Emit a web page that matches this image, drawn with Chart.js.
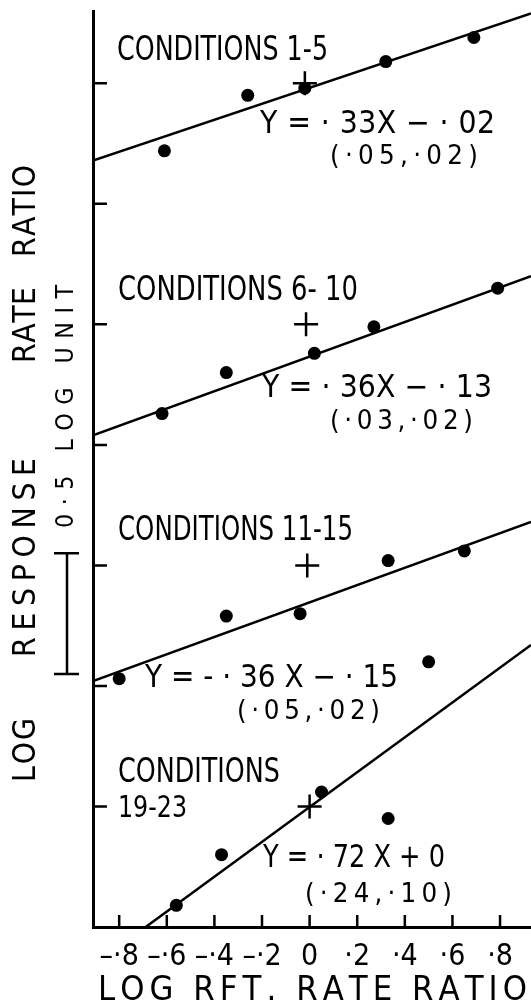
<!DOCTYPE html>
<html>
<head>
<meta charset="utf-8">
<script src="https://cdn.jsdelivr.net/npm/chart.js@4.4.1/dist/chart.umd.min.js"></script>
<style>
html, body { margin: 0; padding: 0; background: #fff; }
#wrap { width: 531px; height: 1005px; }
</style>
</head>
<body>
<div id="wrap"><canvas id="myChart" width="531" height="1005"></canvas></div>
<script>
// x axis: log reinforcement rate ratio
var xTicks = [-0.8, -0.6, -0.4, -0.2, 0, 0.2, 0.4, 0.6, 0.8];
var xTickLabels = ['–·8', '–·6', '–·4', '–·2', '0', '·2', '·4', '·6', '·8'];
// y ticks, every 0.5 log unit
var yTicks = [0, 0.5, 1, 1.5, 2, 2.5, 3];

// each panel is shifted up one log unit from the one below
var panelOffsets = [3, 2, 1, 0];

// data points per panel (x, y relative to the panel's zero)
var pointsX = [
    [-0.61, -0.26, -0.02, 0.32, 0.69],
    [-0.62, -0.35, 0.02, 0.27, 0.79],
    [-0.80, -0.35, -0.04, 0.33, 0.65],
    [-0.56, -0.37, 0.05, 0.33, 0.50]
];
var pointsY = [
    [-0.28, -0.05, -0.02, 0.09, 0.19],
    [-0.37, -0.20, -0.12, -0.01, 0.15],
    [-0.47, -0.21, -0.20, 0.02, 0.06],
    [-0.41, -0.20, 0.06, -0.05, 0.60]
];

// fitted lines, value at left and right edge
var lineX = [-0.91, 0.93];
var lineY = [
    [-0.32, 0.29],
    [-0.46, 0.20],
    [-0.48, 0.18],
    [-0.66, 0.67]
];

// the "+" marks
var crossX = [-0.02, -0.015, -0.01, 0];
var crossY = [0, 0, 0, 0];

// texts
var conditionLabels = [['CONDITIONS 1-5'], ['CONDITIONS 6- 10'], ['CONDITIONS 11-15'], ['CONDITIONS', '19-23']];
var equationLabels = ['Y = · 33X − · 02', 'Y = · 36X − · 13', 'Y = - · 36 X − · 15', 'Y = · 72 X + 0'];
var errorLabels = ['(·05,·02)', '(·03,·02)', '(·05,·02)', '(·24,·10)'];
var xTitleText = 'LOG RFT. RATE RATIO';
var yTitleWords = ['LOG', 'RESPONSE', 'RATE', 'RATIO'];
var scaleText = '0·5 LOG UNIT';
var scaleBarSize = 0.5;

// where the texts go (pixels): x0, x1, baseline, cap height
var conditionBoxes = [
    [[117, 328, 60, 25]],
    [[118, 358, 300, 25]],
    [[118, 353, 540, 24]],
    [[118, 280, 782, 24], [118, 187, 817, 22]]
];
var equationBoxes = [[260, 495, 133, 23], [262, 492, 397, 23], [145, 398, 687, 23], [263, 445, 867, 23]];
var errorBoxes = [[330, 478, 164, 20], [330, 473, 429, 20], [237, 380, 719, 20], [305, 452, 902, 20]];
var xTitleBox = [98, 527, 1000, 25];
// rotated: bottom, top, baseline x, cap height
var yTitleBoxes = [[782, 718, 35, 23], [657, 458, 35, 23], [363, 287, 35, 23], [257, 165, 35, 23]];
var scaleTextBox = [528, 285, 73, 18];

var FONT = '"DejaVu Sans Condensed", "Liberation Sans Narrow", "DejaVu Sans", sans-serif';

// draw text so it fills x0..x1 on the current baseline
function drawFitText(ctx, text, x0, x1, base, cap) {
    var size = cap / 0.729;
    ctx.font = size + 'px ' + FONT;
    ctx.textBaseline = 'alphabetic';
    ctx.textAlign = 'left';
    var widths = [];
    var total = 0;
    for (var i = 0; i < text.length; i++) {
        var w = ctx.measureText(text[i]).width;
        widths.push(w);
        total += w;
    }
    var target = x1 - x0;
    var extra = text.length > 1 ? (target - total) / (text.length - 1) : 0;
    ctx.save();
    ctx.translate(x0, base);
    if (extra < 0) {
        ctx.scale(target / total, 1);
        extra = 0;
    }
    var x = 0;
    for (var j = 0; j < text.length; j++) {
        ctx.fillText(text[j], x, 0);
        x += widths[j] + extra;
    }
    ctx.restore();
}

function drawRotText(ctx, text, bottom, top, baseX, cap) {
    ctx.save();
    ctx.translate(baseX, bottom);
    ctx.rotate(-Math.PI / 2);
    drawFitText(ctx, text, 0, bottom - top, 0, cap);
    ctx.restore();
}

var paperPlugin = {
    id: 'paper',
    afterDraw: function (chart) {
        var ctx = chart.ctx;
        var xs = chart.scales.x;
        var ys = chart.scales.y;
        var area = chart.chartArea;
        ctx.save();
        ctx.strokeStyle = '#000';
        ctx.fillStyle = '#000';
        ctx.lineWidth = 2.5;

        // inward tick marks
        ctx.beginPath();
        yTicks.forEach(function (v) {
            var py = ys.getPixelForValue(v);
            ctx.moveTo(area.left, py);
            ctx.lineTo(area.left + 14, py);
        });
        xTicks.forEach(function (v) {
            var px = xs.getPixelForValue(v);
            ctx.moveTo(px, area.bottom);
            ctx.lineTo(px, area.bottom - 12);
        });
        ctx.stroke();

        // 0.5 log unit bar
        var barTop = ys.getPixelForValue(1.05);
        var barBot = ys.getPixelForValue(1.05 - scaleBarSize);
        ctx.beginPath();
        ctx.moveTo(67, barTop);
        ctx.lineTo(67, barBot);
        ctx.moveTo(54, barTop);
        ctx.lineTo(79, barTop);
        ctx.moveTo(54, barBot);
        ctx.lineTo(79, barBot);
        ctx.stroke();

        // texts
        for (var p = 0; p < 4; p++) {
            conditionLabels[p].forEach(function (t, k) {
                var b = conditionBoxes[p][k];
                drawFitText(ctx, t, b[0], b[1], b[2], b[3]);
            });
            var e = equationBoxes[p];
            drawFitText(ctx, equationLabels[p], e[0], e[1], e[2], e[3]);
            var r = errorBoxes[p];
            drawFitText(ctx, errorLabels[p], r[0], r[1], r[2], r[3]);
        }
        drawFitText(ctx, xTitleText, xTitleBox[0], xTitleBox[1], xTitleBox[2], xTitleBox[3]);
        yTitleWords.forEach(function (w, k) {
            var b = yTitleBoxes[k];
            drawRotText(ctx, w, b[0], b[1], b[2], b[3]);
        });
        drawRotText(ctx, scaleText, scaleTextBox[0], scaleTextBox[1], scaleTextBox[2], scaleTextBox[3]);
        ctx.restore();
    }
};

var datasets = [];
for (var p = 0; p < 4; p++) {
    var off = panelOffsets[p];
    datasets.push({
        label: 'fit ' + p,
        showLine: true,
        data: lineX.map(function (x, i) { return { x: x, y: lineY[p][i] + off }; }),
        borderColor: '#000',
        borderWidth: 2.5,
        pointRadius: 0
    });
    datasets.push({
        label: 'points ' + p,
        data: pointsX[p].map(function (x, i) { return { x: x, y: pointsY[p][i] + off }; }),
        backgroundColor: '#000',
        borderColor: '#000',
        pointRadius: 6.5,
        borderWidth: 0
    });
    datasets.push({
        label: 'cross ' + p,
        data: [{ x: crossX[p], y: crossY[p] + off }],
        pointStyle: 'cross',
        pointRadius: 12,
        borderColor: '#000',
        borderWidth: 2.5
    });
}

var chart = new Chart(document.getElementById('myChart').getContext('2d'), {
    type: 'scatter',
    data: { datasets: datasets },
    options: {
        responsive: false,
        animation: false,
        devicePixelRatio: 1,
        layout: { autoPadding: false, padding: { left: 0, right: 0, top: 11, bottom: 0 } },
        plugins: {
            legend: { display: false },
            tooltip: { enabled: false }
        },
        scales: {
            x: {
                type: 'linear',
                min: -0.91,
                max: 0.93,
                afterBuildTicks: function (scale) {
                    scale.ticks = xTicks.map(function (v) { return { value: v }; });
                },
                afterFit: function (scale) {
                    scale.height = 78;
                    scale.paddingLeft = 0;
                    scale.paddingRight = 0;
                },
                grid: { display: true, drawOnChartArea: false, drawTicks: false },
                border: { display: true, color: '#000', width: 3 },
                ticks: {
                    autoSkip: false,
                    maxRotation: 0,
                    padding: 12,
                    color: '#000',
                    font: { family: FONT, size: 30 },
                    callback: function (val, idx) { return xTickLabels[idx]; }
                }
            },
            y: {
                type: 'linear',
                min: -0.5,
                max: 3.3,
                afterFit: function (scale) {
                    scale.width = 93;
                    scale.paddingTop = 0;
                    scale.paddingBottom = 0;
                },
                grid: { display: true, drawOnChartArea: false, drawTicks: false },
                border: { display: true, color: '#000', width: 3 },
                ticks: { display: false }
            }
        }
    },
    plugins: [paperPlugin]
});
</script>
</body>
</html>
